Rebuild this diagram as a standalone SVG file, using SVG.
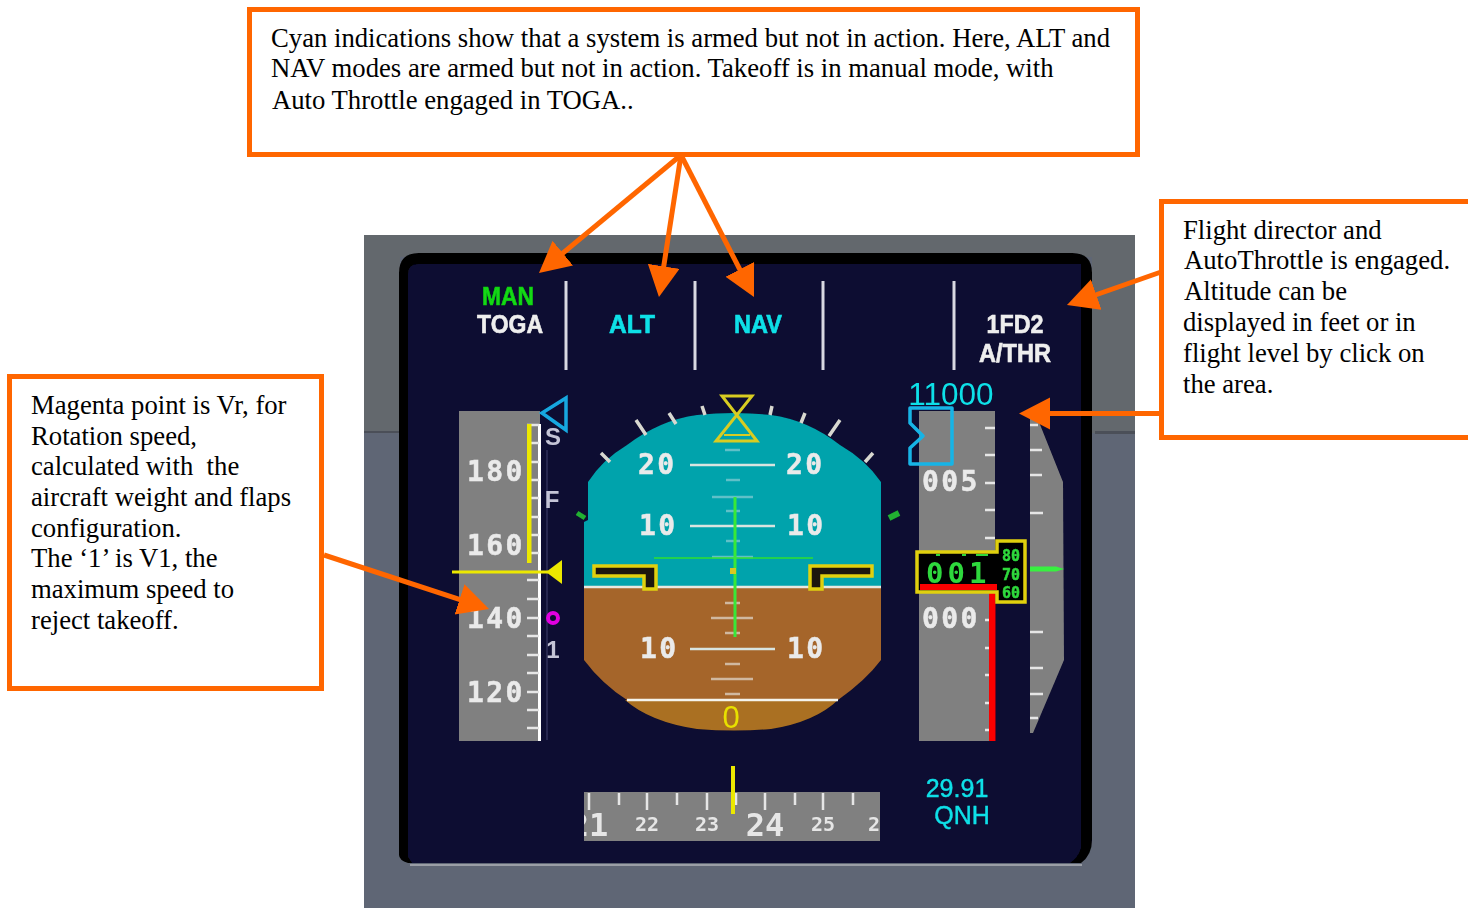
<svg xmlns="http://www.w3.org/2000/svg" width="1468" height="908" viewBox="0 0 1468 908">
<style>
.box{fill:#fff;stroke:#ff6600;stroke-width:5}
.note{font:26.7px "Liberation Serif",serif;fill:#000;white-space:pre}
.con{stroke:#ff6600;stroke-width:5;fill:none;marker-end:url(#head)}
.mode{font:bold 25px "Liberation Sans",sans-serif;text-anchor:middle;stroke-width:.6}
.dig{font:bold 28px "DejaVu Sans Mono",monospace;fill:#eaeaea;stroke:#eaeaea;stroke-width:.5;letter-spacing:2.400px}
.hd{font:bold 20px "DejaVu Sans Mono",monospace;fill:#e6e6e6;text-anchor:middle}
.hdl{font:bold 32px "DejaVu Sans Mono",monospace;fill:#e6e6e6;text-anchor:middle}
.spd{font:bold 24px "Liberation Sans",sans-serif;fill:#c4c4d6;text-anchor:middle}
.cy{font-family:"Liberation Sans",sans-serif;fill:#10e0e8;stroke:#10e0e8;stroke-width:.4;text-anchor:middle}
.tk{stroke:#e6e6e6;stroke-width:2.5}
.pl{stroke:#d8e4e0;stroke-width:2.5}
.pg{stroke:#d0b8a0;stroke-width:2.5}
.ps{stroke:#60c0c8;stroke-width:2.5}
.roll{stroke:#d8d8d0;stroke-width:3.5}
.wing{fill:#1a1208;stroke:#e0d010;stroke-width:3.5}
</style>
<defs>
<marker id="head" markerUnits="userSpaceOnUse" markerWidth="34" markerHeight="34" refX="19" refY="16" orient="auto"><path d="M0,0L31,16L0,32Z" fill="#ff6600"/></marker>
<filter id="soft" x="0" y="0" width="1" height="1"><feGaussianBlur stdDeviation="0.7"/></filter>
<clipPath id="hdc"><rect x="584" y="792" width="296" height="49"/></clipPath>
</defs>
<rect width="1468" height="908" fill="#fff"/>
<g id="pfd" filter="url(#soft)">
<rect x="364" y="235" width="771" height="673" fill="#5f6674"/>
<rect x="364" y="235" width="771" height="22" fill="#63676d"/>
<rect x="364" y="235" width="36" height="198" fill="#63676d"/>
<rect x="1092" y="235" width="43" height="198" fill="#63676d"/>
<rect x="364" y="431" width="36" height="2" fill="#4c5058"/>
<rect x="1095" y="431" width="40" height="3" fill="#4c5058"/>
<rect x="410" y="864" width="672" height="2" fill="#9a9ea6"/>
<path d="M399,855V273Q399,253 419,253H1072Q1092,253 1092,273V840Q1092,855 1081,863H408Q399,860 399,855Z" fill="#000"/>
<path d="M408,274Q408,264 418,264H1081V848Q1078,858 1070,863H412L408,857Z" fill="#0c0c30"/>

<g stroke="#d8d8e2" stroke-width="3"><path d="M566,281V370M695,281V370M823,281V370M954,281V370"/></g>
<text class="mode" x="508" y="305" fill="#12d812" stroke="#12d812" textLength="52" lengthAdjust="spacingAndGlyphs">MAN</text>
<text class="mode" x="510" y="333" fill="#eeeeee" stroke="#eeeeee" textLength="66" lengthAdjust="spacingAndGlyphs">TOGA</text>
<text class="mode" x="632" y="333" fill="#10e0e8" stroke="#10e0e8" textLength="46" lengthAdjust="spacingAndGlyphs">ALT</text>
<text class="mode" x="758" y="333" fill="#10e0e8" stroke="#10e0e8" textLength="48" lengthAdjust="spacingAndGlyphs">NAV</text>
<text class="mode" x="1015" y="333" fill="#eeeeee" stroke="#eeeeee" textLength="57" lengthAdjust="spacingAndGlyphs">1FD2</text>
<text class="mode" x="1015" y="362" fill="#eeeeee" stroke="#eeeeee" textLength="72" lengthAdjust="spacingAndGlyphs">A/THR</text>

<!-- speed tape -->
<rect x="459" y="411" width="81" height="330" fill="#808080"/>
<rect x="538" y="424" width="3" height="317" fill="#fff"/>
<path class="tk" d="M527,425h12M527,443h12M527,462h12M527,480h12M527,498h12M527,517h12M527,535h12M527,553h12M527,580h12M527,599h12M527,618h12M527,636h12M527,655h12M527,673h12M527,692h12M527,710h12M527,728h12"/>
<rect x="527" y="424" width="4.500" height="139" fill="#ece800"/>
<text class="dig" x="467" y="481">180</text>
<text class="dig" x="467" y="555">160</text>
<text class="dig" x="467" y="628">140</text>
<text class="dig" x="467" y="702">120</text>
<path d="M547,450V740" stroke="#30305a" stroke-width="1.500"/>
<path d="M542,413L566,398V430Z" fill="none" stroke="#14a8e0" stroke-width="3.500"/>
<text class="spd" x="553" y="445">S</text>
<text class="spd" x="552" y="508">F</text>
<text class="spd" x="553" y="658">1</text>
<circle cx="553" cy="618" r="5" fill="none" stroke="#e000e0" stroke-width="4"/>
<path d="M452,572H548" stroke="#ece800" stroke-width="3"/>
<path d="M562,560V584L546,572Z" fill="#ece800"/>

<!-- attitude -->
<path d="M584,587V522L588,520V482Q602,460 627,445Q660,420 697,415Q734,411 771,415Q808,420 840,445Q866,460 881,482V587Z" fill="#00a3ac"/>
<path d="M584,587V660Q602,684 627,700L838,700Q866,680 881,660V587Z" fill="#a5652a"/>
<path d="M625,700Q650,722 697,729Q734,732 771,729Q815,722 838,700Z" fill="#aa7020"/>
<path d="M584,587H881" stroke="#e8e8e0" stroke-width="2.500"/>
<path d="M627,700H838" stroke="#f4f4ec" stroke-width="2.500"/>
<path class="ps" d="M725,450h15M726,480h14M726,511h14M726,541h14M712,497h41M712,557h41"/>
<path class="pl" d="M690,465H775M690,526H775"/>
<path class="pl" d="M690,649H775"/>
<path class="pg" d="M725,603h15M711,618h42M725,633h15M725,664h15M711,679h42M725,694h15"/>
<text class="dig" x="638" y="474">20</text><text class="dig" x="786" y="474">20</text>
<text class="dig" x="639" y="535">10</text><text class="dig" x="787" y="535">10</text>
<text class="dig" x="640" y="658">10</text><text class="dig" x="787" y="658">10</text>
<path d="M654,558H813" stroke="#30e030" stroke-width="1.500"/>
<path d="M735,497V637" stroke="#38e838" stroke-width="3"/>
<rect x="730" y="568" width="6" height="6" fill="#d8c820"/>
<path class="wing" d="M594,566H656V589H644V576H594Z"/>
<path class="wing" d="M872,566H810V589H822V576H872Z"/>
<path class="roll" d="M636,420L646,435M669,413L676,424M702,406L705,415M601,453L610,462M772,406L770,415M805,413L801,423M840,420L829,436M873,453L865,462"/>
<path d="M577,513L585,518" stroke="#20b030" stroke-width="5"/>
<path d="M889,518L899,513" stroke="#20b030" stroke-width="6"/>
<path d="M722,396H752L716,441H757Z" fill="none" stroke="#d8cc20" stroke-width="3"/>
<path d="M724,435H750" stroke="#d8cc20" stroke-width="2"/>
<text x="731" y="728" font-family="Liberation Sans,sans-serif" font-size="31" fill="#e8e000" text-anchor="middle">0</text>

<!-- heading tape -->
<rect x="584" y="792" width="296" height="49" fill="#808080"/>
<path class="tk" d="M589,793V810M619,793V805M647,793V810M677,793V805M707,793V810M736,793V805M765,793V810M795,793V805M823,793V810M853,793V805"/>
<g clip-path="url(#hdc)">
<text class="hdl" x="589" y="836">21</text>
<text class="hd" x="647" y="831">22</text>
<text class="hd" x="707" y="831">23</text>
<text class="hdl" x="765" y="836">24</text>
<text class="hd" x="823" y="831">25</text>
<text class="hd" x="880" y="831">26</text>
</g>
<path d="M733,766V814" stroke="#ece800" stroke-width="4"/>

<!-- altitude tape -->
<rect x="919" y="411" width="76" height="330" fill="#808080"/>
<path class="tk" d="M985,428h10M985,455h10M985,483h10M985,510h10M985,538h10M985,620h10M985,648h10M985,675h10M985,703h10M985,730h10"/>
<rect x="989" y="590" width="6.500" height="151" fill="#fa0000"/>
<text class="dig" x="922" y="491">005</text>
<text class="dig" x="922" y="628">000</text>
<path d="M910,408H952V464H910V448L923,436L910,423Z" fill="none" stroke="#18b4e6" stroke-width="3.500" stroke-linejoin="round"/>
<text class="cy" x="951" y="405" font-size="31.500" style="stroke-width:0">11000</text>
<path d="M917,552H997V541H1025V602H997V592H917Z" fill="#000" stroke="#e0d010" stroke-width="3.500"/>
<rect x="920" y="584" width="77" height="6" fill="#fa0000"/>
<text x="926" y="583" font-family="DejaVu Sans Mono,monospace" font-weight="bold" font-size="29" fill="#2fd83c" letter-spacing="4">001</text>
<path d="M936,555h4M962,555h4M976,555h12" stroke="#2fd83c" stroke-width="2"/>
<g font-family="DejaVu Sans Mono,monospace" font-weight="bold" font-size="15" fill="#2fd83c" stroke="#2fd83c" stroke-width=".5" text-anchor="middle">
<text x="1011" y="561">80</text><text x="1011" y="580">70</text><text x="1011" y="598">60</text>
</g>

<!-- vertical speed -->
<path d="M1030,412H1035L1041,427L1063,482L1064,660L1033,733H1030Z" fill="#808080"/>
<path class="tk" d="M1030,425h8M1030,450h12M1030,475h12M1030,513h13M1030,632h13M1030,668h13M1030,694h13M1030,718h8"/>
<path d="M1030,566.500H1056L1064,569L1056,571.500H1030Z" fill="#38f040"/>

<text class="cy" x="957" y="797" font-size="25">29.91</text>
<text class="cy" x="962" y="824" font-size="25">QNH</text>
</g>

<g id="connectors">
<path class="con" d="M681,155L548.200,265.300"/>
<path class="con" d="M681,155L660.800,285.100"/>
<path class="con" d="M681,155L748.500,286.300"/>
<path class="con" d="M1161,272L1078.300,301"/>
<path class="con" d="M1161,413.500H1031"/>
<path class="con" d="M324,555L477.600,605.300"/>
</g>

<g id="note-cyan">
<rect class="box" x="249.500" y="9.500" width="888" height="145"/>
<text class="note"><tspan x="271" y="47">Cyan indications show that a system is armed but not in action. Here, ALT and</tspan><tspan x="271" y="77">NAV modes are armed but not in action. Takeoff is in manual mode, with</tspan><tspan x="272" y="109">Auto Throttle engaged in TOGA..</tspan></text>
</g>
<g id="note-fd">
<rect class="box" x="1161.500" y="201.500" width="320" height="236"/>
<text class="note"><tspan x="1183" y="239">Flight director and</tspan><tspan x="1184" y="269">AutoThrottle is engaged.</tspan><tspan x="1184" y="300">Altitude can be</tspan><tspan x="1183" y="331">displayed in feet or in</tspan><tspan x="1183" y="362">flight level by click on</tspan><tspan x="1183" y="393">the area.</tspan></text>
</g>
<g id="note-speed">
<rect class="box" x="9.500" y="376.500" width="312" height="312"/>
<text class="note"><tspan x="31" y="414">Magenta point is Vr, for</tspan><tspan x="31" y="445">Rotation speed,</tspan><tspan x="31" y="475">calculated with  the</tspan><tspan x="31" y="506">aircraft weight and flaps</tspan><tspan x="31" y="537">configuration.</tspan><tspan x="31" y="567">The ‘1’ is V1, the</tspan><tspan x="31" y="598">maximum speed to</tspan><tspan x="31" y="629">reject takeoff.</tspan></text>
</g>
</svg>
